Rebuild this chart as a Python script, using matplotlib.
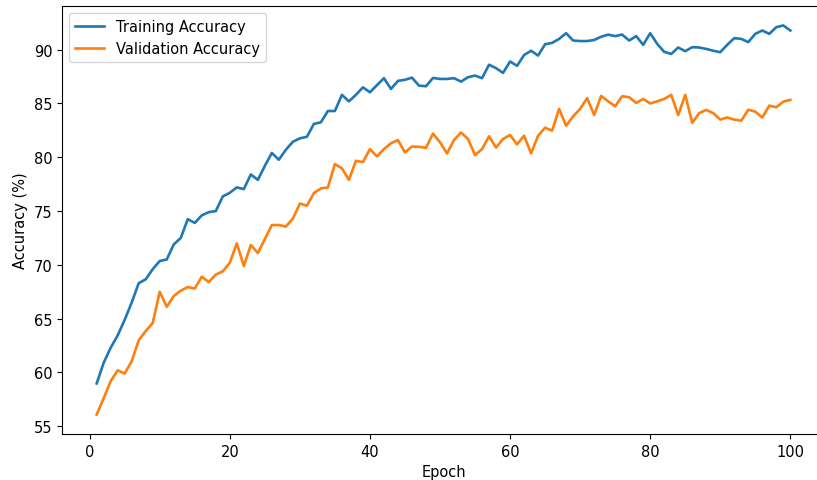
import numpy as np
import matplotlib
matplotlib.use("Agg")
import matplotlib.pyplot as plt

# accuracy per epoch
epochs = np.arange(1, 101)

train_acc = [
    58.98, 60.9, 62.3, 63.45, 64.9, 66.5, 68.3, 68.66, 69.6, 70.36,
    70.5, 71.9, 72.5, 74.25, 73.9, 74.6, 74.9, 75.0, 76.36, 76.7,
    77.2, 77.04, 78.4, 77.9, 79.2, 80.4, 79.77, 80.7, 81.44, 81.76,
    81.9, 83.1, 83.25, 84.3, 84.3, 85.8, 85.2, 85.8, 86.5, 86.04,
    86.7, 87.35, 86.35, 87.1, 87.2, 87.4, 86.66, 86.6, 87.37, 87.28,
    87.28, 87.35, 87.03, 87.44, 87.59, 87.35, 88.6, 88.28, 87.84, 88.9,
    88.5, 89.5, 89.9, 89.45, 90.5, 90.63, 91.0, 91.53, 90.85, 90.8,
    90.8, 90.9, 91.2, 91.4, 91.26, 91.4, 90.85, 91.26, 90.45, 91.53,
    90.54, 89.8, 89.6, 90.2, 89.86, 90.23, 90.2, 90.07, 89.9, 89.77,
    90.45, 91.07, 91.0, 90.7, 91.47, 91.78, 91.47, 92.09, 92.25, 91.78,
]

val_acc = [
    56.09, 57.6, 59.2, 60.2, 59.9, 61.05, 63.0, 63.85, 64.6, 67.5,
    66.1, 67.1, 67.6, 67.94, 67.8, 68.9, 68.4, 69.1, 69.4, 70.2,
    72.0, 69.9, 71.85, 71.1, 72.4, 73.7, 73.7, 73.56, 74.3, 75.7,
    75.5, 76.67, 77.1, 77.2, 79.37, 78.97, 77.9, 79.67, 79.55, 80.76,
    80.08, 80.76, 81.3, 81.6, 80.45, 81.0, 80.97, 80.88, 82.2, 81.4,
    80.36, 81.6, 82.3, 81.7, 80.2, 80.76, 81.95, 80.9, 81.7, 82.07,
    81.2, 82.0, 80.36, 82.0, 82.75, 82.47, 84.5, 82.93, 83.8, 84.5,
    85.5, 83.93, 85.7, 85.2, 84.74, 85.67, 85.58, 85.05, 85.42, 85.0,
    85.2, 85.42, 85.8, 83.93, 85.8, 83.2, 84.1, 84.4, 84.1, 83.5,
    83.7, 83.5, 83.4, 84.42, 84.24, 83.7, 84.8, 84.65, 85.17, 85.33,
]

plt.rcParams["font.size"] = 10.5

fig = plt.figure(figsize=(8.17, 4.81), dpi=100)
# axes run a little past the right edge, like the cropped reference
ax = fig.add_axes([62 / 817, 46 / 481, 763 / 817, 428 / 481])

ax.plot(epochs, train_acc, lw=1.9, label="Training Accuracy")
ax.plot(epochs, val_acc, lw=1.9, label="Validation Accuracy")

ax.set_xlabel("Epoch")
ax.set_ylabel("Accuracy (%)")
ax.legend(loc="upper left")

fig.savefig("out.png", dpi=100)
